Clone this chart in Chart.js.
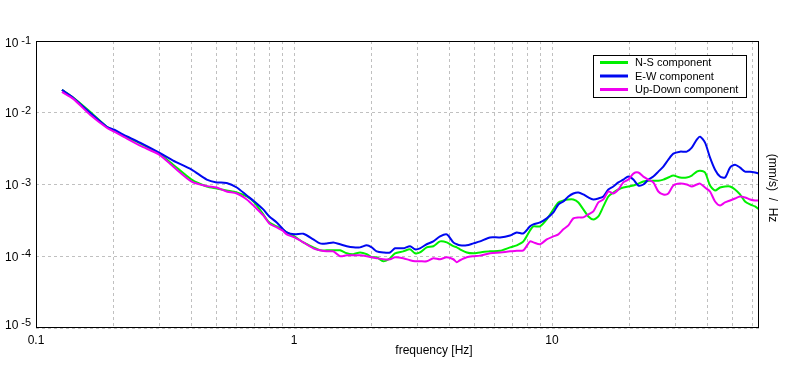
<!DOCTYPE html>
<html><head><meta charset="utf-8">
<script src="https://cdn.jsdelivr.net/npm/chart.js@4/dist/chart.umd.min.js"></script>
<style>html,body{margin:0;padding:0;background:#fff}#wrap{width:796px;height:370px}</style>
</head><body><div id="wrap"><canvas id="c" width="796" height="370"></canvas></div>
<script>
// ---- data ----
const frequencies = [0.126,0.1395,0.162,0.188,0.201,0.218,0.253,0.300,0.340,0.401,0.459,0.5015,0.548,0.600,0.656,0.702,0.760,0.802,0.857,0.901,0.937,1.003,
1.087,1.188,1.261,1.339,1.420,1.508,1.601,1.698,1.803,1.913,2.001,2.092,2.219,2.356,2.463,2.652,2.816,2.944,3.078,3.267,3.467,3.681,3.908,4.144,4.272,4.399,4.670,4.955,5.260,5.750,6.285,6.874,7.297,7.744,8.216,
8.462,8.984,9.539,10.12,10.58,11.06,11.57,12.09,12.65,13.22,13.83,14.46,15.12,15.81,16.53,17.28,18.07,18.89,19.76,20.66,21.60,22.59,23.62,24.69,25.82,27.00,28.23,29.52,31.34,33.28,34.80,36.38,37.48,39.17,40.96,42.83,44.78,46.82,48.96,51.19,53.53,55.97,58.52,61.19,63.4];

const nsComponent = [0.0208,0.0163,0.0103,0.00639,0.00562,0.00479,0.00375,0.00269,0.00189,0.00117,0.000938,0.000880,0.000825,0.000774,0.000681,0.000562,0.000383,0.000296,0.000261,0.000237,0.000215,0.000189,
0.000156,0.000133,0.000121,0.000121,0.000121,0.000121,0.000110,0.000107,0.000113,0.000107,0.0000968,0.0000968,0.0000852,0.0000938,0.000110,0.000117,0.000125,0.000110,0.000113,0.000133,0.000138,0.000161,0.000156,0.000138,0.000133,0.000125,0.000113,0.000110,0.000113,0.000117,0.000119,0.000133,0.000142,0.000161,0.000229,
0.000261,0.000261,0.000326,0.000450,0.000562,0.000599,0.000619,0.000619,0.000562,0.000450,0.000359,0.000326,0.000359,0.000495,0.000681,0.000774,0.000852,0.000908,0.000938,0.000968,0.00103,0.00110,0.00113,0.00113,0.00113,0.00117,0.00125,0.00133,0.00125,0.00125,0.00133,0.00151,0.00156,0.00147,0.000968,0.000825,0.000908,0.000938,0.000938,0.000852,0.000726,0.000580,0.000527,0.000495,0.000450];

const ewComponent = [0.0208,0.0161,0.0100,0.00639,0.00580,0.00495,0.00383,0.00278,0.00215,0.00161,0.00117,0.00107,0.00105,0.000908,0.000703,0.000580,0.000450,0.000359,0.000296,0.000244,0.000215,0.000202,
0.000206,0.000172,0.000151,0.000151,0.000156,0.000147,0.000138,0.000133,0.000133,0.000142,0.000133,0.000117,0.000113,0.000113,0.000129,0.000129,0.000138,0.000125,0.000129,0.000147,0.000161,0.000189,0.000202,0.000156,0.000147,0.000142,0.000142,0.000151,0.000161,0.000183,0.000183,0.000195,0.000215,0.000208,0.000261,
0.000278,0.000296,0.000337,0.000408,0.000527,0.000580,0.000681,0.000750,0.000774,0.000726,0.000660,0.000619,0.000639,0.000681,0.000852,0.000938,0.00107,0.00117,0.00129,0.00117,0.000968,0.00100,0.00117,0.00129,0.00151,0.00178,0.00222,0.00269,0.00287,0.00287,0.00326,0.00422,0.00464,0.00383,0.00237,0.00161,0.00129,0.00125,0.00172,0.00189,0.00172,0.00151,0.00151,0.00147,0.00142];

const udComponent = [0.0195,0.0156,0.00938,0.00619,0.00544,0.00464,0.00348,0.00261,0.00178,0.00110,0.000950,0.000908,0.000799,0.000750,0.000619,0.000495,0.000371,0.000287,0.000252,0.000229,0.000202,0.000183,
0.000156,0.000129,0.000121,0.000117,0.000117,0.000100,0.000103,0.000103,0.000103,0.000100,0.0000968,0.0000938,0.0000908,0.0000908,0.0000968,0.0000938,0.0000880,0.0000852,0.0000852,0.0000852,0.0000938,0.0000908,0.0000968,0.0000908,0.0000825,0.0000880,0.0000968,0.000100,0.000102,0.000110,0.000113,0.000117,0.000119,0.000121,0.000161,
0.000156,0.000147,0.000172,0.000189,0.000202,0.000237,0.000269,0.000337,0.000348,0.000348,0.000383,0.000422,0.000562,0.000619,0.000799,0.000750,0.000852,0.00107,0.00117,0.00142,0.00147,0.00129,0.00117,0.00107,0.000799,0.000726,0.000750,0.000968,0.00103,0.00100,0.000938,0.00100,0.00103,0.000908,0.000799,0.000580,0.000511,0.000562,0.000599,0.000639,0.000681,0.000660,0.000619,0.000599,0.000599];

const seriesNames = ['N-S component', 'E-W component', 'Up-Down component'];
const xGridValues = [0.1,0.2,0.3,0.4,0.5,0.6,0.7,0.8,0.9,1,2,3,4,5,6,7,8,9,10,20,30,40,50,60];
const xLabelValues = [0.1, 1, 10];
const xLabelTexts = ['0.1', '1', '10'];
const yDecadeExponents = [-1, -2, -3, -4, -5];
const xAxisTitle = 'frequency [Hz]';
const yAxisTitle = '(mm/s)  /  Hz';
const xRange = [0.1, 63.4];
const yRange = [1e-5, 1e-1];

// ---- styling ----
const FONT = "'Liberation Sans', Arial, sans-serif";
const colors = ['#00f000', '#0008f0', '#f000f0'];
const seriesValues = [nsComponent, ewComponent, udComponent];

// Chart.js paints the first dataset last (on top); list Up-Down first so it sits on top.
const datasets = [2, 1, 0].map(i => ({
  label: seriesNames[i],
  data: frequencies.map((f, j) => ({ x: f, y: seriesValues[i][j] })),
  borderColor: colors[i],
  backgroundColor: colors[i],
  borderWidth: 2,
  pointRadius: 0,
  tension: 0.25,
  fill: false
}));

const decor = {
  id: 'decor',
  afterDraw(chart) {
    const ctx = chart.ctx, a = chart.chartArea, ys = chart.scales.y;
    ctx.save();
    // frame
    ctx.strokeStyle = '#000'; ctx.lineWidth = 1;
    ctx.strokeRect(a.left + 0.5, a.top + 0.5, a.right - a.left - 1, a.bottom - a.top - 1);
    // y tick labels 10^n
    ctx.fillStyle = '#000'; ctx.textBaseline = 'middle'; ctx.textAlign = 'left';
    yDecadeExponents.forEach(e => {
      const py = ys.getPixelForValue(Math.pow(10, e));
      const cy = Math.min(Math.max(py + 1, 44), 326);
      ctx.font = '12px ' + FONT;
      ctx.fillText('10', 5, cy);
      const w = ctx.measureText('10').width;
      ctx.font = '11px ' + FONT;
      ctx.fillText(String(e), 5 + w + 3, cy - 3);
    });
    // x axis title
    ctx.font = '12px ' + FONT; ctx.textAlign = 'center';
    ctx.fillText(xAxisTitle, 434, 351);
    // right-side title, rotated
    ctx.save();
    ctx.translate(772, 188); ctx.rotate(Math.PI / 2);
    ctx.fillText(yAxisTitle, 0, 0);
    ctx.restore();
    // legend
    const lx = 593, ly = 55, lw = 153, lh = 42;
    ctx.fillStyle = '#fff'; ctx.fillRect(lx, ly, lw, lh);
    ctx.strokeStyle = '#000'; ctx.lineWidth = 1; ctx.strokeRect(lx + 0.5, ly + 0.5, lw, lh);
    const rows = [62.5, 76, 89.5];
    ctx.font = '11px ' + FONT; ctx.textAlign = 'left'; ctx.textBaseline = 'middle';
    seriesNames.forEach((name, i) => {
      ctx.strokeStyle = colors[i]; ctx.lineWidth = 3;
      ctx.beginPath(); ctx.moveTo(600, rows[i]); ctx.lineTo(628, rows[i]); ctx.stroke();
      ctx.fillStyle = '#000';
      ctx.fillText(name, 635, rows[i] + 0.5);
    });
    ctx.restore();
  }
};

new Chart(document.getElementById('c'), {
  type: 'line',
  data: { datasets },
  options: {
    responsive: false,
    animation: false,
    devicePixelRatio: 1,
    layout: { padding: { top: 41, right: 37, left: 0, bottom: 0 } },
    plugins: { legend: { display: false }, tooltip: { enabled: false } },
    scales: {
      x: {
        type: 'logarithmic', min: xRange[0], max: xRange[1],
        afterBuildTicks: s => { s.ticks = xGridValues.map(v => ({ value: v })); },
        afterFit: s => { s.height = 42; },
        grid: { color: '#c0c0c0', drawTicks: false, lineWidth: 1 },
        border: { display: false, dash: [3, 3] },
        ticks: {
          autoSkip: false, maxRotation: 0, padding: 5, color: '#000',
          font: { size: 12, family: FONT },
          callback: (v) => {
            const k = xLabelValues.findIndex(t => Math.abs(t - v) < 1e-9);
            return k >= 0 ? xLabelTexts[k] : '';
          }
        }
      },
      y: {
        type: 'logarithmic', min: yRange[0], max: yRange[1],
        afterBuildTicks: s => { s.ticks = yDecadeExponents.map(e => ({ value: Math.pow(10, e) })); },
        afterFit: s => { s.width = 36; },
        grid: { color: '#c0c0c0', drawTicks: false, lineWidth: 1 },
        border: { display: false, dash: [3, 3] },
        ticks: { display: false }
      }
    }
  },
  plugins: [decor]
});
</script>
</body></html>
